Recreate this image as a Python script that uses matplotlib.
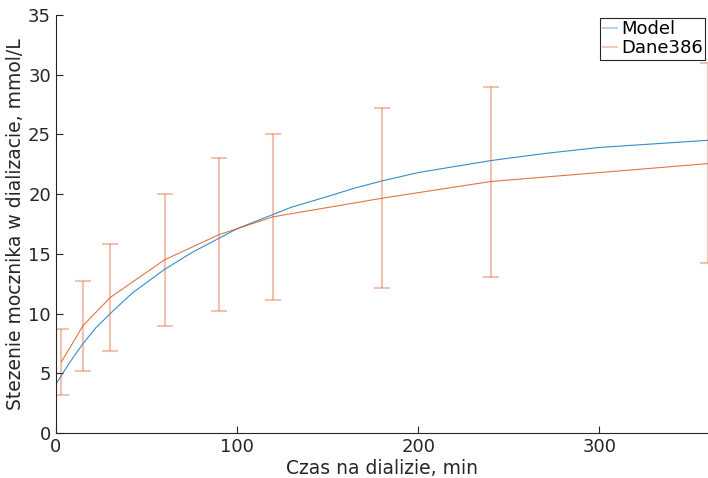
import numpy as np
import matplotlib
matplotlib.use('Agg')
import matplotlib.pyplot as plt

# model curve
model_t = [0, 8, 15, 22, 30, 42, 60, 75, 90, 100, 115, 130, 150, 165, 180, 200, 220, 240, 270, 300, 330, 360]
model_c = [4.1, 6.0, 7.5, 8.8, 10.0, 11.7, 13.7, 15.1, 16.3, 17.1, 18.0, 18.9, 19.8, 20.5, 21.1, 21.8, 22.3, 22.8, 23.4, 23.9, 24.2, 24.5]

# measured data with error bars
data_t = [3, 15, 30, 60, 90, 120, 180, 240, 360]
data_c = [5.95, 9.0, 11.35, 14.5, 16.6, 18.1, 19.65, 21.05, 22.55]
data_lo = [3.2, 5.2, 6.9, 9.0, 10.2, 11.1, 12.1, 13.1, 14.2]
data_hi = [8.7, 12.7, 15.8, 20.0, 23.0, 25.0, 27.2, 29.0, 31.0]

blue = (0.0, 0.447, 0.741)
orange = (0.85, 0.325, 0.098)

fig = plt.figure(figsize=(7.08, 4.78), dpi=100)
ax = fig.add_axes([0.079, 0.094, 0.921, 0.875])

ax.plot(model_t, model_c, color=blue, lw=0.8, alpha=0.8, label='Model')
yerr = [np.array(data_c) - np.array(data_lo), np.array(data_hi) - np.array(data_c)]
ax.plot(data_t, data_c, color=orange, lw=0.8, alpha=0.8, label='Dane386')
ax.errorbar(data_t, data_c, yerr=yerr, fmt='none', ecolor=orange, alpha=0.35,
            elinewidth=1.5, capsize=6, capthick=1.5)

ax.set_xlim(0, 360)
ax.set_ylim(0, 35)
ax.set_xticks([0, 100, 200, 300])
ax.set_yticks(range(0, 36, 5))
ax.tick_params(direction='in', length=5, labelsize=13, colors='#262626')
for s in ['top', 'right']:
    ax.spines[s].set_visible(False)
for s in ['left', 'bottom']:
    ax.spines[s].set_color('#262626')
    ax.spines[s].set_linewidth(0.8)

ax.set_xlabel('Czas na dializie, min', fontsize=13.5, color='#262626', labelpad=2)
ax.set_ylabel('Stezenie mocznika w dializacie, mmol/L', fontsize=13.5, color='#262626', labelpad=2)

leg = ax.legend(loc='upper right', fontsize=13, fancybox=False, framealpha=1,
                edgecolor='#262626', handlelength=0.8, handletextpad=0.2,
                borderpad=0.15, labelspacing=0.05, borderaxespad=0.15)
leg.get_frame().set_linewidth(0.8)
for l in leg.get_lines():
    l.set_alpha(0.3)
    l.set_linewidth(1.5)

fig.savefig('out.png', dpi=100)
